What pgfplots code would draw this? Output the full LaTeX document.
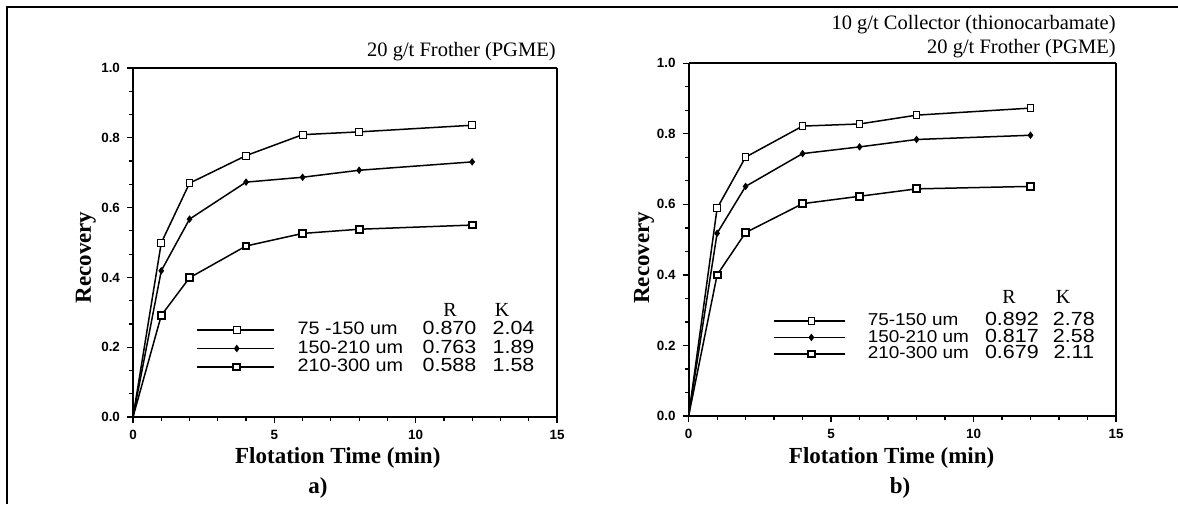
\documentclass[border=0pt]{standalone}
\usepackage{fontspec}
\setmainfont{Liberation Serif}
\newfontfamily\ticksf{Liberation Sans}
\newfontfamily\legfont[FakeStretch=1.1]{Liberation Sans}
\newfontfamily\numfont[FakeStretch=1.13]{Liberation Sans}
\usepackage{pgfplots}
\pgfplotsset{compat=1.18}

\newcommand\rowa[3]{\makebox[62.5pt][l]{\legfont\fontsize{9}{10}\selectfont #1}\makebox[27pt][c]{\numfont\fontsize{9.5}{10}\selectfont #2}\hspace{7.5pt}\makebox[22pt][c]{\numfont\fontsize{9.5}{10}\selectfont #3}}
\newcommand\rowb[3]{\makebox[58.5pt][l]{\legfont\fontsize{8.6}{10}\selectfont #1}\makebox[27pt][c]{\numfont\fontsize{9.5}{10}\selectfont #2}\hspace{6.5pt}\makebox[22pt][c]{\numfont\fontsize{9.5}{10}\selectfont #3}}

\pgfplotsset{
  panel/.style={
    scale only axis,
    anchor=south west,
    xmin=0,xmax=15,ymin=0,ymax=1,
    xtick={0,5,10,15}, ytick={0,0.2,0.4,0.6,0.8,1},
    minor x tick num=4, minor y tick num=2,
    tick align=outside, tick pos=left,
    major tick length=3pt, minor tick length=1.8pt,
    separate axis lines,
    axis line style={line width=1.1pt},
    every tick/.style={black, line width=0.6pt},
    /pgf/number format/assume math mode=true,
    yticklabel style={/pgf/number format/.cd, fixed, fixed zerofill, precision=1},
    tick label style={font=\ticksf\bfseries\fontsize{6.7}{7}\selectfont},
    xlabel={Flotation Time (min)}, ylabel={Recovery},
    label style={font=\bfseries\fontsize{11.5}{13}\selectfont},
    clip=false,
    legend cell align=left,
    legend style={draw=none, fill=none, inner sep=0pt, outer sep=0pt, anchor=north west,
      nodes={inner sep=0pt, text height=7pt, text depth=2.25pt},
      /tikz/every odd column/.append style={column sep=11.5pt}},
  },
  s1/.style={black, line width=0.75pt, mark=square*, mark size=1.7pt,
    mark options={fill=white, line width=0.5pt, solid}, mark indices={2,3,4,5,6,7}},
  s2/.style={black, line width=0.75pt, mark=diamond*, mark size=1.5pt,
    mark options={fill=black, line width=0.5pt, solid}, mark indices={2,3,4,5,6,7}},
  s3/.style={black, line width=0.75pt, mark=square*, mark size=1.7pt,
    mark options={fill=white, line width=1.0pt, solid}, mark indices={2,3,4,5,6,7}},
}

\begin{document}
\begin{tikzpicture}[x=0.5pt, y=-0.5pt]
\useasboundingbox (0,0) rectangle (1178,504);
\fill[white] (0,0) rectangle (1178,504);
\draw[line width=1pt] (7,504) -- (7,7) -- (1178,7);
\coordinate (PA) at (133,417);
\coordinate (PB) at (688.6,416);

% ---------------- panel a ----------------
\begin{axis}[panel, at={(PA)}, width=212pt, height=174.5pt,
  xlabel style={at={(axis description cs:0.483,-0.1175)}, anchor=center},
  ylabel style={at={(axis description cs:-0.111,0.457)}, anchor=center},
  legend image code/.code={\draw[#1, mark indices={2}] plot coordinates {(0pt,0pt) (20pt,0pt) (38.5pt,0pt)};},
  legend style={at={(axis description cs:0.1486,0.2758)}}]
\addplot[s1] coordinates {(0,0) (1,0.499) (2,0.670) (4,0.749) (6,0.809) (8,0.817) (12,0.836)};
\addlegendentry{\rowa{75 -150 um}{0.870}{2.04}}
\addplot[s2] coordinates {(0,0) (1,0.419) (2,0.567) (4,0.673) (6,0.687) (8,0.707) (12,0.731)};
\addlegendentry{\rowa{150-210 um}{0.763}{1.89}}
\addplot[s3] coordinates {(0,0) (1,0.291) (2,0.399) (4,0.490) (6,0.526) (8,0.538) (12,0.550)};
\addlegendentry{\rowa{210-300 um}{0.588}{1.58}}
\end{axis}

% ---------------- panel b ----------------
\begin{axis}[panel, at={(PB)}, width=213.7pt, height=176.35pt,
  xlabel style={at={(axis description cs:0.475,-0.119)}, anchor=center},
  ylabel style={at={(axis description cs:-0.104,0.449)}, anchor=center},
  legend image code/.code={\draw[#1, mark indices={2}] plot coordinates {(0pt,0pt) (18.5pt,0pt) (35.5pt,0pt)};},
  legend style={at={(axis description cs:0.199,0.293)},
     nodes={inner sep=0pt, text height=6.5pt, text depth=1.75pt},
     /tikz/every odd column/.append style={column sep=10.85pt}}]
\addplot[s1] coordinates {(0,0) (1,0.589) (2,0.734) (4,0.822) (6,0.828) (8,0.853) (12,0.873)};
\addlegendentry{\rowb{75-150 um}{0.892}{2.78}}
\addplot[s2] coordinates {(0,0) (1,0.518) (2,0.651) (4,0.744) (6,0.763) (8,0.784) (12,0.796)};
\addlegendentry{\rowb{150-210 um}{0.817}{2.58}}
\addplot[s3] coordinates {(0,0) (1,0.400) (2,0.520) (4,0.602) (6,0.623) (8,0.644) (12,0.651)};
\addlegendentry{\rowb{210-300 um}{0.679}{2.11}}
\end{axis}

% ---------------- texts ----------------
\node[anchor=east, inner sep=0pt, font=\fontsize{10.25}{12}\selectfont] at (556,52) {20 g/t Frother (PGME)};
\node[anchor=east, inner sep=0pt, font=\fontsize{10.25}{12}\selectfont] at (1116,25) {10 g/t Collector (thionocarbamate)};
\node[anchor=east, inner sep=0pt, font=\fontsize{10.25}{12}\selectfont] at (1116,49) {20 g/t Frother (PGME)};
\node[inner sep=0pt, font=\fontsize{10}{12}\selectfont] at (450,310) {R};
\node[inner sep=0pt, font=\fontsize{10}{12}\selectfont] at (502,310) {K};
\node[inner sep=0pt, font=\fontsize{10}{12}\selectfont] at (1009,297) {R};
\node[inner sep=0pt, font=\fontsize{10}{12}\selectfont] at (1063,297) {K};
\node[inner sep=0pt, font=\bfseries\fontsize{11.5}{13}\selectfont] at (318,488) {a)};
\node[inner sep=0pt, font=\bfseries\fontsize{11.5}{13}\selectfont] at (900,488) {b)};
\end{tikzpicture}
\end{document}
